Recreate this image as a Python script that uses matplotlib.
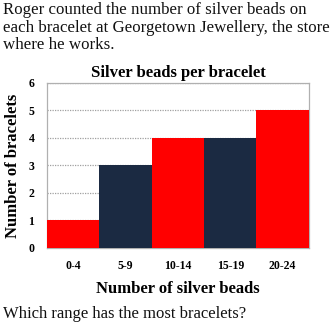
import matplotlib.pyplot as plt

# bracelet counts per bead range
ranges = ["0-4", "5-9", "10-14", "15-19", "20-24"]
counts = [1, 3, 4, 4, 5]
bar_colors = ["#ff0000", "#1b2a42", "#ff0000", "#1b2a42", "#ff0000"]
y_ticks = [0, 1, 2, 3, 4, 5, 6]

plt.rcParams["font.family"] = ["Liberation Serif", "DejaVu Serif"]

fig = plt.figure(figsize=(3.35, 3.25), dpi=100)

# question text around the chart
fig.text(0.01, 0.993, "Roger counted the number of silver beads on\n"
         "each bracelet at Georgetown Jewellery, the store\n"
         "where he works.", ha="left", va="top", fontsize=12.2,
         linespacing=1.12, color="#111111")
fig.text(0.01, 0.035, "Which range has the most bracelets?", ha="left",
         va="center", fontsize=12, color="#111111")

ax = fig.add_axes([0.140, 0.237, 0.782, 0.508])
x = range(len(ranges))
ax.bar(x, counts, width=1.0, color=bar_colors, zorder=3)
ax.set_xlim(-0.5, len(ranges) - 0.5)
ax.set_ylim(0, 6)
ax.set_yticks(y_ticks)
ax.set_yticklabels([str(v) for v in y_ticks], fontsize=8.5, fontweight="bold")
ax.set_xticks(list(x))
ax.set_xticklabels(ranges, fontsize=8.5, fontweight="bold")
ax.tick_params(axis="x", length=0, pad=9)
ax.tick_params(axis="y", length=0, pad=9)
ax.yaxis.grid(True, color="#a0a0a0", linestyle=(0, (1, 1)), linewidth=0.9, zorder=0)
for s in ax.spines.values():
    s.set_color("#b0b0b0")
    s.set_linewidth(0.9)

ax.set_title("Silver beads per bracelet", fontsize=12, fontweight="bold", pad=4)
ax.set_xlabel("Number of silver beads", fontsize=12, fontweight="bold", labelpad=6)
ax.set_ylabel("Number of bracelets", fontsize=12, fontweight="bold", labelpad=5)

fig.savefig("out.png", dpi=100)
